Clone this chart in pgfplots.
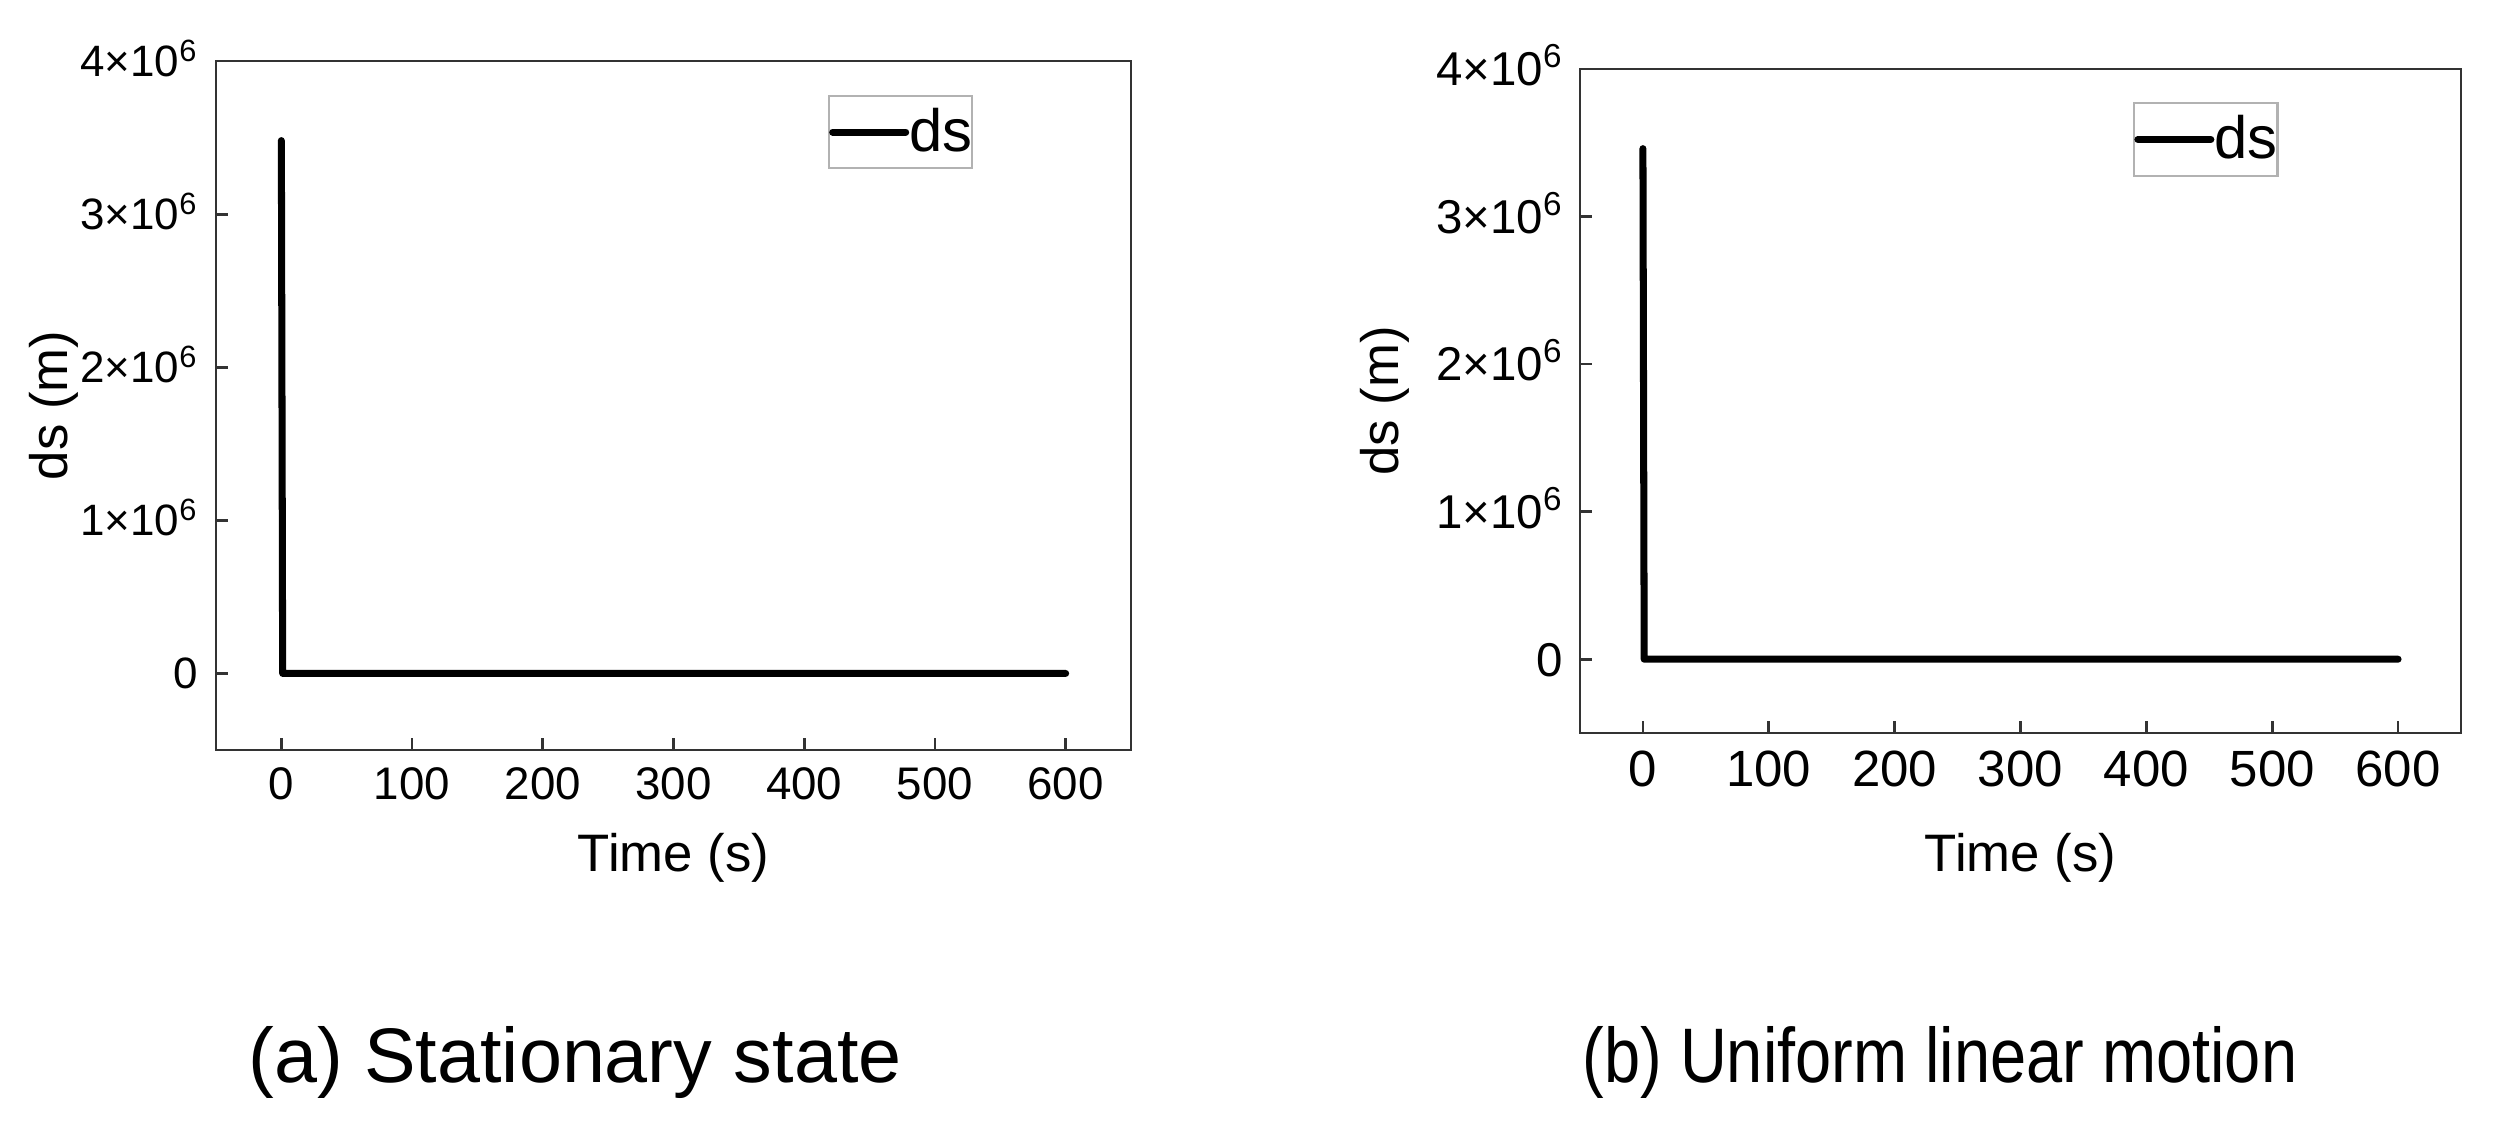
\documentclass[border=0pt]{standalone}
\usepackage{fontspec}
\setmainfont{Liberation Sans}
\usepackage{pgfplots}
\pgfplotsset{compat=1.18}

\definecolor{framegray}{gray}{0.2}

\pgfplotsset{
  dsaxis/.style={
    anchor=south west, scale only axis,
    xmin=-50, xmax=650, ymin=-0.5e6, ymax=4e6,
    xtick={0,100,...,600}, ytick={0,1e6,2e6,3e6,4e6},
    yticklabels={0,1×10\textsuperscript{6},2×10\textsuperscript{6},3×10\textsuperscript{6},4×10\textsuperscript{6}},
    scaled y ticks=false,
    /pgf/number format/assume math mode=true,
    tick align=inside, tick pos=left,
    major tick length=1.2mm,
    axis line style={line width=0.8pt, framegray},
    every tick/.style={line width=0.8pt, framegray},
    xlabel={Time (s)}, ylabel={ds (m)},
    label style={font=\fontsize{15}{18}\selectfont},
    legend image code/.code={\draw[#1] (0mm,0mm) -- (7.3mm,0mm);},
    legend style={draw=gray!60, line width=0.6pt, inner xsep=0pt, inner ysep=1.2mm,
      anchor=north west, font=\fontsize{17}{20}\selectfont,
      nodes={inner sep=0pt},
      /tikz/every even column/.append style={column sep=1.0mm}},
    xticklabel style={anchor=north, inner sep=0pt, yshift=-1.7mm},
  },
  dsline/.style={black, line width=2pt, line cap=round, line join=round},
}

\begin{document}
\begin{tikzpicture}
\path[use as bounding box] (0,0) rectangle (249.3mm,113.8mm);

% (a) stationary state
\begin{axis}[dsaxis,
  at={(21.6mm,38.8mm)}, width=91.5mm, height=68.9mm,
  xticklabel style={font=\fontsize{13}{15}\selectfont},
  yticklabel style={font=\fontsize{12.5}{15}\selectfont, anchor=base east, inner sep=0pt, xshift=-1.7mm, yshift=-4.4pt},
  xlabel style={at={(axis description cs:0.5,-0.157)}, anchor=center},
  ylabel style={at={(axis description cs:-0.177,0.5)}, anchor=center},
  legend style={at={(0.669,0.951)}},
]
\addplot[dsline] coordinates {(0,3.48e6) (1,0) (600,0)};
\addlegendentry{ds}
\end{axis}

% (b) uniform linear motion
\begin{axis}[dsaxis,
  at={(158.0mm,40.5mm)}, width=88.1mm, height=66.4mm,
  xticklabel style={font=\fontsize{14.5}{17}\selectfont},
  yticklabel style={font=\fontsize{13.5}{16}\selectfont, anchor=base east, inner sep=0pt, xshift=-1.6mm, yshift=-4.8pt},
  xlabel style={at={(axis description cs:0.5,-0.188)}, anchor=center},
  ylabel style={at={(axis description cs:-0.222,0.5)}, anchor=center},
  legend style={at={(0.628,0.950)}},
]
\addplot[dsline] coordinates {(0,3.46e6) (1,0) (600,0)};
\addlegendentry{ds}
\end{axis}

\node[font=\fontsize{22}{26}\selectfont, anchor=base] at (57.5mm,5.5mm) {(a) Stationary state};
\node[font=\fontsize{22}{26}\selectfont, anchor=base] at (194.0mm,5.5mm) {\scalebox{0.84}[1]{(b) Uniform linear motion}};
\end{tikzpicture}
\end{document}
